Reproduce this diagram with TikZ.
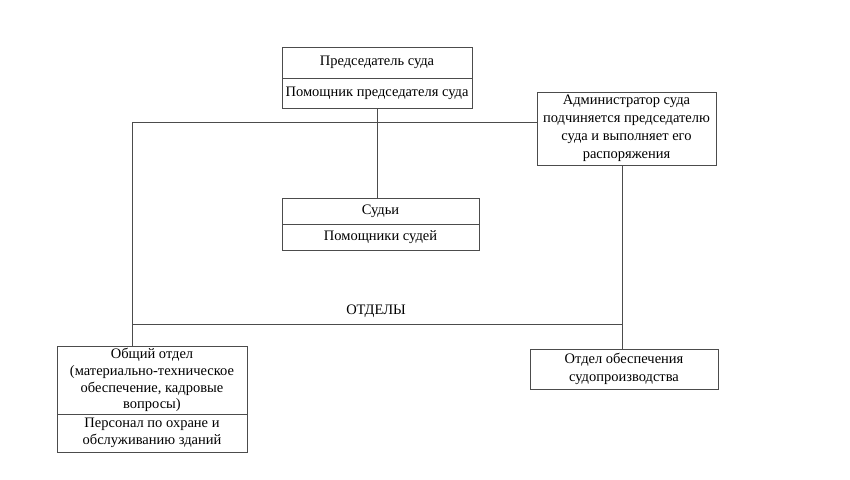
\documentclass[tikz,border=0pt]{standalone}
\usepackage{fontspec}
\setmainfont{Liberation Serif}
\usetikzlibrary{positioning}

\begin{document}
\begin{tikzpicture}[x=1pt,y=-1pt,
  box/.style={draw=black!70,line width=0.9pt,outer sep=0pt,inner sep=0pt,align=center,
    font=\fontsize{14.5}{16.8}\selectfont},
  ln/.style={draw=black!70,line width=0.9pt}]
\useasboundingbox[fill=white] (0,0) rectangle (850,479);

%chairman
\node[box,minimum width=190pt,minimum height=31pt] (pred) at (377,62.5) {Председатель суда};
\node[box,minimum width=190pt,minimum height=30pt,below=0pt of pred] (pompred) {Помощник председателя суда};

%administrator
\node[box,minimum width=179pt,minimum height=73pt,font=\fontsize{14.5}{18}\selectfont] (admin) at (626.5,128.5)
  {Администратор суда\\подчиняется председателю\\суда и выполняет его\\распоряжения};

%judges
\node[box,minimum width=197pt,minimum height=26pt] (sudi) at (380.5,211) {Судьи};
\node[box,minimum width=197pt,minimum height=26pt,below=0pt of sudi] (pomsud) {Помощники судей};

%general department
\node[box,minimum width=190pt,minimum height=68pt] (obsh) at (152,380)
  {Общий отдел\\(материально-техническое\\обеспечение, кадровые\\вопросы)};
\node[box,minimum width=190pt,minimum height=38pt,below=0pt of obsh] (pers)
  {Персонал по охране и\\обслуживанию зданий};

%proceedings department
\node[box,minimum width=188pt,minimum height=40pt,font=\fontsize{14.5}{18}\selectfont] (otdsud) at (624,369)
  {Отдел обеспечения\\судопроизводства};

%lines
\coordinate (lt) at (132,122);
\coordinate (lb) at (132,324);
\coordinate (rb) at (622,324);
\draw[ln] (pompred.south) -- (pompred.south |- sudi.north);
\draw[ln] (lt) -- (admin.west |- lt);
\draw[ln] (lt) -- (lt |- obsh.north);
\draw[ln] (lb) -- (rb);
\draw[ln] (rb |- admin.south) -- (rb |- otdsud.north);

\node[font=\fontsize{14.5}{17}\selectfont] (otd) at (376,311) {ОТДЕЛЫ};
\end{tikzpicture}
\end{document}
